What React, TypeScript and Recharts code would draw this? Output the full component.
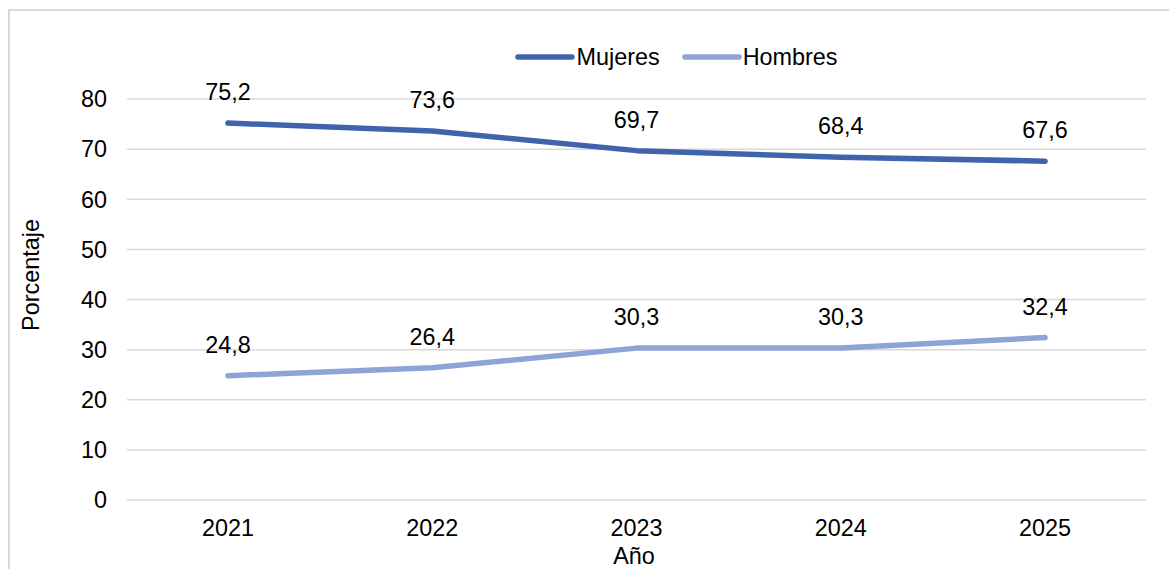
import { LineChart, Line, XAxis, YAxis, CartesianGrid, Legend, LabelList, Label } from 'recharts';

const years = ['2021', '2022', '2023', '2024', '2025'];
const mujeres = [75.2, 73.6, 69.7, 68.4, 67.6];
const hombres = [24.8, 26.4, 30.3, 30.3, 32.4];
const yTicks = [0, 10, 20, 30, 40, 50, 60, 70, 80];

const FONT = '"Liberation Sans", Arial, sans-serif';
const FS = 23.4;
const MUJERES_COLOR = '#4064AC';
const HOMBRES_COLOR = '#8EA4D7';

const data = years.map((year, i) => ({ year, mujeres: mujeres[i], hombres: hombres[i] }));

const fmt = (v: any) => String(v).replace('.', ',');

const LegendContent = () => (
    <div style={{ display: 'flex', justifyContent: 'center', alignItems: 'center', height: 26, fontFamily: FONT, fontSize: FS, color: '#000', paddingLeft: 206 }}>
        {[
            { name: 'Mujeres', color: MUJERES_COLOR },
            { name: 'Hombres', color: HOMBRES_COLOR },
        ].map((item) => (
            <div key={item.name} style={{ display: 'flex', alignItems: 'center', marginRight: 22 }}>
                <svg width={60} height={10} style={{ marginRight: 1 }}>
                    <line x1={3} y1={5} x2={57} y2={5} stroke={item.color} strokeWidth={5.5} strokeLinecap="round" />
                </svg>
                <span>{item.name}</span>
            </div>
        ))}
    </div>
);

export default function App() {
    return (
        <div style={{ position: 'absolute', left: 0, top: 0, width: 1169, height: 569, overflow: 'hidden', background: '#fff' }}>
            <div style={{ position: 'absolute', left: 8, top: 9, width: 1200, height: 600, border: '2px solid #D9D9D9', boxSizing: 'border-box' }} />
            <div style={{ position: 'absolute', left: 0, top: 0 }}>
                <LineChart
                    width={1169}
                    height={569}
                    data={data}
                    margin={{ top: 73, right: 23, left: 67, bottom: 39 }}
                    style={{ fontFamily: FONT }}
                >
                    <CartesianGrid stroke="#D9D9D9" strokeWidth={1.5} vertical={false} />
                    <XAxis
                        dataKey="year"
                        axisLine={false}
                        tickLine={false}
                        height={30}
                        padding={{ left: 101, right: 101 }}
                        tickMargin={13}
                        tick={{ fill: '#000', fontSize: FS }}
                    >
                        <Label
                            content={() => (
                                <text x={634} y={564} textAnchor="middle" fill="#000" fontSize={FS} fontFamily={FONT}>
                                    Año
                                </text>
                            )}
                        />
                    </XAxis>
                    <YAxis
                        domain={[0, 80]}
                        ticks={yTicks}
                        axisLine={false}
                        tickLine={false}
                        width={60}
                        tickMargin={14}
                        tick={{ fill: '#000', fontSize: FS }}
                    >
                        <Label
                            content={() => (
                                <text x={39} y={275} transform="rotate(-90 39 275)" textAnchor="middle" fill="#000" fontSize={FS} fontFamily={FONT}>
                                    Porcentaje
                                </text>
                            )}
                        />
                    </YAxis>
                    <Legend verticalAlign="top" content={<LegendContent />} wrapperStyle={{ top: 44, left: 0, width: 1169 }} />
                    <Line
                        type="linear"
                        dataKey="mujeres"
                        name="Mujeres"
                        stroke={MUJERES_COLOR}
                        strokeWidth={5.5}
                        strokeLinecap="round"
                        strokeLinejoin="round"
                        dot={false}
                        isAnimationActive={false}
                    >
                        <LabelList dataKey="mujeres" position="top" offset={23} formatter={fmt} fill="#000" fontSize={FS} />
                    </Line>
                    <Line
                        type="linear"
                        dataKey="hombres"
                        name="Hombres"
                        stroke={HOMBRES_COLOR}
                        strokeWidth={5.5}
                        strokeLinecap="round"
                        strokeLinejoin="round"
                        dot={false}
                        isAnimationActive={false}
                    >
                        <LabelList dataKey="hombres" position="top" offset={23} formatter={fmt} fill="#000" fontSize={FS} />
                    </Line>
                </LineChart>
            </div>
        </div>
    );
}
